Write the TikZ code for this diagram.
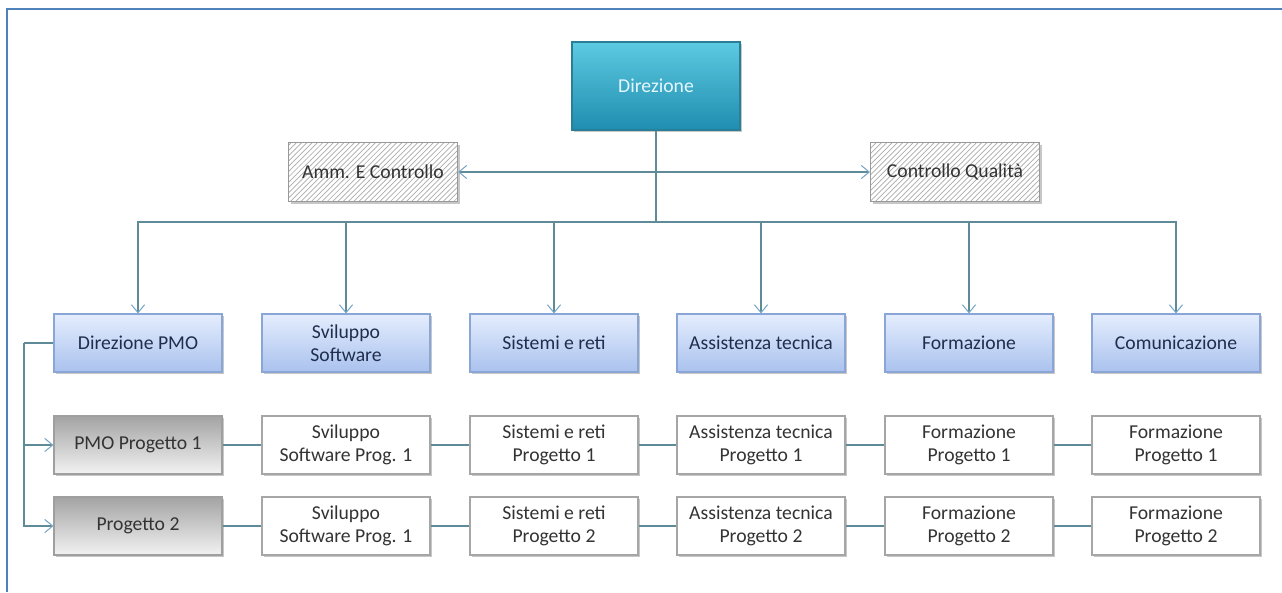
\documentclass[tikz,border=0pt]{standalone}
\usepackage{fontspec}
\setmainfont{Carlito}
\usetikzlibrary{arrows.meta,patterns,shadows}

\definecolor{cornice}{HTML}{4F81BD}
\definecolor{linea}{HTML}{5F8A98}
\definecolor{punta}{HTML}{78A8C8}
\definecolor{tealsu}{HTML}{5CCAE0}
\definecolor{tealgiu}{HTML}{1F8DB0}
\definecolor{tealbordo}{HTML}{2A7F98}
\definecolor{bluesu}{HTML}{E4EDFD}
\definecolor{bluegiu}{HTML}{AAC2EE}
\definecolor{bluebordo}{HTML}{8AA6D6}
\definecolor{testoblu}{HTML}{1F2E4C}
\definecolor{testogrigio}{HTML}{333333}

\tikzset{
  box/.style={draw=gray!70, line width=0.6pt, minimum width=3.36cm, minimum height=1.16cm,
    align=center, inner sep=2pt, text=testogrigio, font=\fontsize{11.2}{13}\selectfont,
    drop shadow={shadow xshift=1.2pt, shadow yshift=-1.2pt, fill=black, opacity=0.22}},
  dirbox/.style={box, draw=tealbordo, top color=tealsu, bottom color=tealgiu,
    minimum height=1.76cm, text=cyan!10},
  staffbox/.style={box, draw=gray!80, minimum width=3.38cm, minimum height=1.18cm,
    preaction={fill=white}, pattern=north east lines, pattern color=gray!65},
  unitbox/.style={box, draw=bluebordo, top color=bluesu, bottom color=bluegiu, text=testoblu},
  projbox/.style={box, draw=gray!75, top color=black!36, bottom color=black!5},
  taskbox/.style={box, fill=white},
  conn/.style={draw=linea, line width=0.6pt},
  arr/.style={conn, -{Straight Barb[length=4.5pt, width=7.5pt, color=punta]}},
}

\begin{document}
\begin{tikzpicture}[x=0.02cm, y=-0.02cm]

% --- Dimensions (pixel) ---
\def\yDir{86}
\def\yStaff{172}
\def\yBar{222}
\def\yUnit{343}
\def\yPa{445}
\def\yPb{526}
\def\xA{138}
\def\xB{346}
\def\xC{554}
\def\xD{761}
\def\xE{969}
\def\xF{1176}

\useasboundingbox (0,0) rectangle (1282,592);

% --- Cornice ---
\draw[cornice, line width=1.3pt] (7,592) -- (7,9) -- (1282,9);

% --- Direzione e staff ---
\node[dirbox] (dir) at (656,\yDir) {Direzione};
\node[staffbox] (amm) at (373,\yStaff) {Amm. E Controllo};
\node[staffbox] (qual) at (955,\yStaff) {Controllo Qualità};

% --- Unità ---
\node[unitbox] (pmo)  at (\xA,\yUnit) {Direzione PMO};
\node[unitbox] (svil) at (\xB,\yUnit) {Sviluppo\\Software};
\node[unitbox] (sist) at (\xC,\yUnit) {Sistemi e reti};
\node[unitbox] (assi) at (\xD,\yUnit) {Assistenza tecnica};
\node[unitbox] (form) at (\xE,\yUnit) {Formazione};
\node[unitbox] (comu) at (\xF,\yUnit) {Comunicazione};

% --- Progetto 1 ---
\node[projbox] (pa1) at (\xA,\yPa) {PMO Progetto 1};
\node[taskbox] (pa2) at (\xB,\yPa) {Sviluppo\\Software Prog. 1};
\node[taskbox] (pa3) at (\xC,\yPa) {Sistemi e reti\\Progetto 1};
\node[taskbox] (pa4) at (\xD,\yPa) {Assistenza tecnica\\Progetto 1};
\node[taskbox] (pa5) at (\xE,\yPa) {Formazione\\Progetto 1};
\node[taskbox] (pa6) at (\xF,\yPa) {Formazione\\Progetto 1};

% --- Progetto 2 ---
\node[projbox] (pb1) at (\xA,\yPb) {Progetto 2};
\node[taskbox] (pb2) at (\xB,\yPb) {Sviluppo\\Software Prog. 1};
\node[taskbox] (pb3) at (\xC,\yPb) {Sistemi e reti\\Progetto 2};
\node[taskbox] (pb4) at (\xD,\yPb) {Assistenza tecnica\\Progetto 2};
\node[taskbox] (pb5) at (\xE,\yPb) {Formazione\\Progetto 2};
\node[taskbox] (pb6) at (\xF,\yPb) {Formazione\\Progetto 2};

% --- Collegamenti dalla direzione ---
\coordinate (bar) at (656,\yBar);
\draw[conn] (dir.south) -- (bar);
\draw[conn, {Straight Barb[length=4.5pt, width=7.5pt, color=punta]}-{Straight Barb[length=4.5pt, width=7.5pt, color=punta]}]
    (amm.east) -- (qual.west);
\draw[arr] (bar) -| (pmo.north);
\draw[arr] (bar) -| (svil.north);
\draw[arr] (bar) -| (sist.north);
\draw[arr] (bar) -| (assi.north);
\draw[arr] (bar) -| (form.north);
\draw[arr] (bar) -| (comu.north);

% --- PMO verso i progetti ---
\coordinate (lft) at (24,\yUnit);
\draw[conn] (pmo.west) -- (lft);
\draw[arr] (lft) |- (pa1.west);
\draw[arr] (lft) |- (pb1.west);

% --- Catene dei progetti ---
\draw[conn] (pa1.east) -- (pa2.west) (pa2.east) -- (pa3.west) (pa3.east) -- (pa4.west)
    (pa4.east) -- (pa5.west) (pa5.east) -- (pa6.west);
\draw[conn] (pb1.east) -- (pb2.west) (pb2.east) -- (pb3.west) (pb3.east) -- (pb4.west)
    (pb4.east) -- (pb5.west) (pb5.east) -- (pb6.west);

\end{tikzpicture}
\end{document}
